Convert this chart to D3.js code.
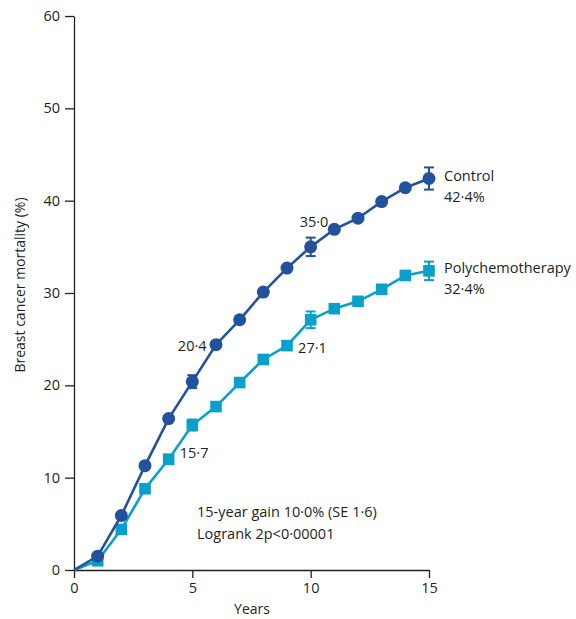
<!DOCTYPE html>
<html>
<head>
<meta charset="utf-8">
<script src="https://cdn.jsdelivr.net/npm/d3@7"></script>
<style>
  body { margin: 0; background: #fff; }
  svg text { font-family: "Open Sans", "Noto Sans", sans-serif; fill: #231f20; }
</style>
</head>
<body>
<svg id="chart" width="576" height="619"></svg>
<script>
const years = [0, 1, 2, 3, 4, 5, 6, 7, 8, 9, 10, 11, 12, 13, 14, 15];
const control = [0, 1.5, 5.9, 11.3, 16.4, 20.4, 24.4, 27.1, 30.1, 32.7, 35.0, 36.9, 38.1, 39.9, 41.4, 42.4];
const poly = [0, 1.0, 4.4, 8.8, 12.0, 15.7, 17.7, 20.3, 22.8, 24.3, 27.1, 28.3, 29.1, 30.4, 31.9, 32.4];
// standard errors shown only at 5, 10 and 15 years
const errYears = [5, 10, 15];
const controlSE = [0.7, 1.0, 1.2];
const polySE = [0.6, 0.9, 1.0];
const xTicks = [0, 5, 10, 15];
const yTicks = [0, 10, 20, 30, 40, 50, 60];

const CONTROL_COL = '#24519c';
const POLY_COL = '#0aa0cc';

const svg = d3.select('#chart');
const x = d3.scaleLinear().domain([0, 15]).range([74, 429]);
const y = d3.scaleLinear().domain([0, 60]).range([570, 16]);

function styleAxis(g) {
  g.select('.domain').attr('stroke', '#231f20').attr('stroke-width', 1.3);
  g.selectAll('.tick line').attr('stroke', '#231f20').attr('stroke-width', 1.3);
  g.selectAll('text').attr('font-size', 14.5).attr('fill', '#231f20');
}

svg.append('g')
  .attr('transform', 'translate(0,570)')
  .call(d3.axisBottom(x).tickValues(xTicks).tickSize(8).tickPadding(5).tickSizeOuter(0))
  .call(styleAxis);

svg.append('g')
  .attr('transform', 'translate(74,0)')
  .call(d3.axisLeft(y).tickValues(yTicks).tickSize(9).tickPadding(5).tickSizeOuter(0))
  .call(styleAxis);

svg.append('text')
  .attr('x', 252).attr('y', 614)
  .attr('text-anchor', 'middle').attr('font-size', 14)
  .text('Years');

svg.append('text')
  .attr('transform', 'translate(25,285) rotate(-90)')
  .attr('text-anchor', 'middle').attr('font-size', 14)
  .text('Breast cancer mortality (%)');

const line = d3.line().x((d, i) => x(years[i])).y(d => y(d));

function drawSeries(vals, se, col, shape) {
  const g = svg.append('g');
  g.append('path').datum(vals)
    .attr('d', line).attr('fill', 'none')
    .attr('stroke', col).attr('stroke-width', 2.6);

  errYears.forEach((yr, k) => {
    const v = vals[years.indexOf(yr)];
    const cx = x(yr), top = y(v + se[k]), bot = y(v - se[k]);
    g.append('line').attr('x1', cx).attr('x2', cx).attr('y1', top).attr('y2', bot)
      .attr('stroke', col).attr('stroke-width', 2);
    [top, bot].forEach(yy => g.append('line')
      .attr('x1', cx - 5).attr('x2', cx + 5).attr('y1', yy).attr('y2', yy)
      .attr('stroke', col).attr('stroke-width', 2));
  });

  const pts = g.selectAll('.pt').data(vals.slice(1)).enter();
  if (shape === 'circle') {
    pts.append('circle')
      .attr('cx', (d, i) => x(years[i + 1])).attr('cy', d => y(d))
      .attr('r', 6.5).attr('fill', col);
  } else {
    pts.append('rect')
      .attr('x', (d, i) => x(years[i + 1]) - 5.8).attr('y', d => y(d) - 5.8)
      .attr('width', 11.6).attr('height', 11.6).attr('fill', col);
  }
}

drawSeries(poly, polySE, POLY_COL, 'square');
drawSeries(control, controlSE, CONTROL_COL, 'circle');

// value labels beside the 5- and 10-year points
const fs = 14.5;
svg.append('text').attr('x', x(5.6)).attr('y', y(control[6]) + 6).attr('text-anchor', 'end').attr('font-size', fs).text('20·4');
svg.append('text').attr('x', x(10.75)).attr('y', y(control[10]) - 20).attr('text-anchor', 'end').attr('font-size', fs).text('35·0');
svg.append('text').attr('x', x(4.47)).attr('y', y(poly[5]) + 33).attr('font-size', fs).text('15·7');
svg.append('text').attr('x', x(9.47)).attr('y', y(poly[9]) + 7).attr('font-size', fs).text('27·1');

// series names at right
[['Control', '42·4%', control[15]], ['Polychemotherapy', '32·4%', poly[15]]].forEach(([name, pct, v]) => {
  svg.append('text').attr('x', 444).attr('y', y(v) + 2).attr('font-size', fs).text(name);
  svg.append('text').attr('x', 444).attr('y', y(v) + 23).attr('font-size', fs).text(pct);
});

svg.append('text').attr('x', 197).attr('y', 517).attr('font-size', fs).text('15-year gain 10·0% (SE 1·6)');
svg.append('text').attr('x', 197).attr('y', 539).attr('font-size', fs).text('Logrank 2p<0·00001');
</script>
</body>
</html>
